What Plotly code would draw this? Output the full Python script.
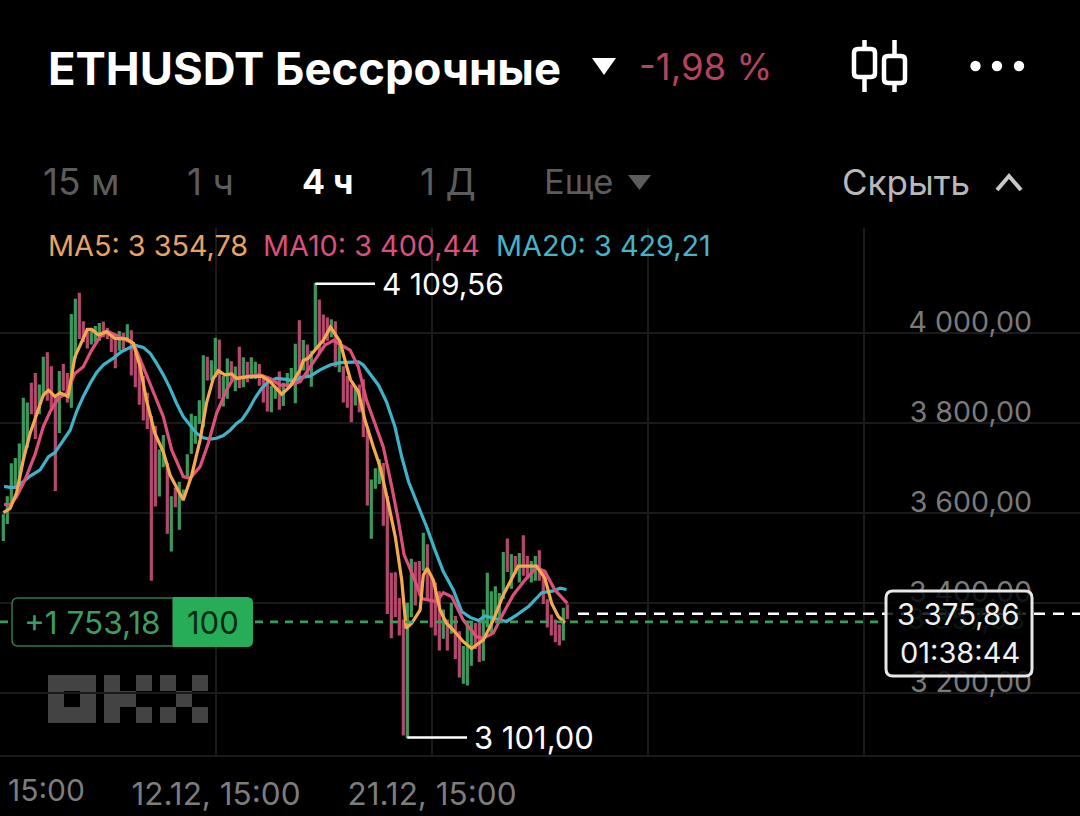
import plotly.graph_objects as go

W, H = 1080, 816

# ---- data ----
high = [3596,3636,3709,3721,3753,3855,3844,3888,3910,3884,3946,3956,3925,3859,3914,3930,3910,4041,4075,4088,
        4025,4010,4010,4014,4021,4024,4010,3996,3984,4003,3999,4018,4005,3955,3925,3903,3866,3814,3792,3740,
        3772,3710,3636,3655,3668,3651,3729,3819,3814,3849,3949,3946,3938,3988,3984,3903,3942,3936,3924,3968,
        3945,3935,3945,3935,3930,3903,3896,3881,3877,3913,3888,3910,3921,3975,4027,3983,3973,3959,4109.56,4073,
        4040,4033,4029,4025,3981,3925,3903,3884,3881,3884,3896,3784,3673,3698,3718,3710,3636,3466,3467,3410,
        3362,3399,3497,3490,3492,3555,3529,3459,3444,3425,3384,3362,3399,3370,3336,3303,3355,3355,3355,3359,
        3384,3466,3425,3436,3421,3512,3542,3507,3503,3510,3549,3503,3492,3503,3516,3473,3407,3373,3362,3351,
        3388,3396]
low = [3539,3577,3621,3659,3659,3718,3747,3821,3766,3821,3859,3851,3829,3650,3779,3873,3847,3835,3944,3988,
       3981,3967,3976,3981,3984,3992,3988,3959,3923,3962,3966,3981,3907,3881,3842,3807,3788,3451,3616,3638,
       3703,3555,3516,3614,3564,3629,3677,3733,3755,3799,3792,3896,3896,3903,3855,3838,3855,3896,3872,3879,
       3881,3892,3899,3899,3884,3847,3827,3825,3855,3831,3839,3881,3884,3845,3896,3918,3903,3882,3966,3955,
       3977,3984,3992,3925,3914,3847,3835,3803,3840,3825,3770,3618,3544,3655,3666,3573,3377,3323,3370,3329,
       3107,3101.00,3370,3396,3418,3473,3407,3347,3329,3296,3322,3296,3333,3277,3236,3222,3218,3262,3299,3270,
       3273,3347,3333,3370,3362,3410,3470,3433,3466,3447,3462,3455,3447,3451,3451,3399,3347,3329,3314,3307,
       3318,3366]
direction = ("ggggggg rr gg rrr g rr gg rrr ggg rrrr g r g rrrrrrr gg r g r gg ggggg r gg r gg r g r g r gg rrr gg r "
             "gggg r g r gg rrr g r g rrr g rrr ggg rrrrrr gg rr g rrrr g r g rr ggg rr gggggg r g r g rr gg rrrrrr g r").replace(" ", "")

ma5_x = [0,1.7,3.3,5,6.7,8.3,10,11.3,12.9,14.2,16.2,17.9,19.6,21,22.1,23.75,25.8,27.9,30.8,32.5,34.2,35.8,37.9,40,41.7,43.3,45,47.1,49.2,50.8,52.5,53.75,55.4,57.1,58.3,61.25,64.6,66.7,69.6,71.7,74.2,
         75,76.25,78.3,80,81.8,84.2,85.4,86.8,88.75,90.4,92.5,94.2,96.25,98,99.6,100.7,102.1,104.2,105,106,107.5,109.2,110.8,112.5,115,117.1,120,122.5,125,128.75,133.3,135.4,137.1,138.75,140.4]
ma5_y = [3601,3610,3644,3718,3777,3821,3862,3873,3859,3867,3859,3947,3981,4008,4008,3996,4003,3988,3987,3977,3925,3851,3777,3736,3684,3659,3629,3684,3762,3844,3899,3916,3907,3909,3899,3903,3904,3892,3864,3881,3918,
         3939,3944,3966,3984,4013,3981,3940,3896,3870,3807,3747,3703,3622,3547,3451,3344,3355,3384,3462,3477,3451,3384,3355,3340,3314,3299,3318,3362,3418,3482,3482,3455,3399,3370,3356]
ma10_x = [0.2,1.7,3.3,5.4,7.9,10,11.7,13.75,15.8,17.9,20,22.1,24.2,26,27.9,30.4,32.5,34.6,36.7,40,42.1,45,46.7,49.2,51.25,53.3,55.8,57.5,60.8,64.2,66.7,69.2,71.7,74.2,
          76.25,78.3,80.4,82.5,84.6,86.7,88.75,90.8,92.9,95,97.1,98.75,100.2,102.5,104.6,108.3,110,112.1,115,118.3,120,122.5,125,127.5,130.4,133.3,135.4,137.9,141]
ma10_y = [3619,3618,3636,3673,3729,3792,3825,3855,3866,3910,3925,3962,3992,4004,3996,3986,3977,3933,3888,3814,3740,3681,3677,3703,3755,3821,3873,3899,3903,3907,3899,3884,3884,3892,
          3918,3944,3973,3983,3973,3962,3925,3851,3799,3747,3659,3584,3507,3459,3410,3403,3423,3414,3362,3325,3322,3333,3377,3418,3451,3479,3470,3429,3399]
ma20_x = [0.2,1.7,3.3,5,6.7,9.2,11.3,12.9,15,16.7,18.3,20,21.7,23.3,25,27.5,29.6,31.7,32.9,35,36.7,38.3,40,41.7,43.3,45,46.7,48.3,50,51.7,53.3,55,56.7,58.3,59.6,61.3,62.9,64.6,66.3,68.3,70.8,72.9,
          74.2,76.7,79.2,81.7,84.2,86.7,88.8,90,91.7,93.8,95.8,97.9,99.6,101.3,103.3,105.8,107.9,110,112.5,114.6,116.7,118.8,120.4,122.5,125.8,128.3,131.3,134.6,137.5,139.2,140.8]
ma20_y = [3659,3657,3657,3670,3682,3696,3725,3734,3762,3784,3825,3859,3888,3912,3929,3944,3959,3968,3973,3968,3955,3933,3907,3877,3844,3814,3796,3777,3767,3764,3766,3772,3784,3799,3807,3829,3855,3877,3892,3899,3897,3892,
          3901,3904,3918,3929,3934,3935,3936,3929,3910,3884,3847,3792,3725,3670,3625,3570,3518,3470,3429,3381,3368,3361,3371,3366,3359,3373,3392,3423,3427,3433,3430]

y_ticks = [3200, 3400, 3600, 3800, 4000]
y_labels = ["3 200,00", "3 400,00", "3 600,00", "3 800,00", "4 000,00"]
x_tick_idx = [53.175, 107.175, 161.175, 215.175]
x_labels = ["12.12, 15:00", "21.12, 15:00", "", ""]

last_price = 3375.86
entry_price = 3358
entry_label = "3 357,68"
max_price = 4109.56
min_price = 3101.00

GREEN, RED = "#3d9a5e", "#b34a6e"

# ---- helpers: pixel to paper ----
def X(p): return p / W
def Y(p): return 1 - p / H
def i_of(px): return (px - 3.3) / 4

def rr(x0, y0, x1, y1, r, corners=(1, 1, 1, 1)):
    tl, tr, br, bl = [r * c for c in corners]
    return (f"M{X(x0+tl)},{Y(y0)} L{X(x1-tr)},{Y(y0)} Q{X(x1)},{Y(y0)} {X(x1)},{Y(y0+tr)} "
            f"L{X(x1)},{Y(y1-br)} Q{X(x1)},{Y(y1)} {X(x1-br)},{Y(y1)} L{X(x0+bl)},{Y(y1)} "
            f"Q{X(x0)},{Y(y1)} {X(x0)},{Y(y1-bl)} L{X(x0)},{Y(y0+tl)} Q{X(x0)},{Y(y0)} {X(x0+tl)},{Y(y0)} Z")

def poly(pts, close=True):
    s = "M" + " L".join(f"{X(a)},{Y(b)}" for a, b in pts)
    return s + (" Z" if close else "")

shapes, anns = [], []
def path(d, fill="rgba(0,0,0,0)", line=None, lw=0, layer="above"):
    shapes.append(dict(type="path", xref="paper", yref="paper", path=d, fillcolor=fill,
                       line=dict(color=line or "rgba(0,0,0,0)", width=lw), layer=layer))
def text(s, x, y, size, color, anchor="left", weight=400, family="Inter"):
    anns.append(dict(text=s, x=X(x), y=Y(y), xref="paper", yref="paper", xanchor=anchor, yanchor="middle",
                     showarrow=False, font=dict(size=size, color=color, family=family, weight=weight)))

open_ = [l if d == "g" else h for l, h, d in zip(low, high, direction)]
close = [h if d == "g" else l for l, h, d in zip(low, high, direction)]
idx = list(range(len(high)))

fig = go.Figure()
fig.add_trace(go.Candlestick(x=idx, open=open_, high=high, low=low, close=close, name="ETHUSDT",
                             increasing=dict(line=dict(color=GREEN, width=1.2), fillcolor=GREEN),
                             decreasing=dict(line=dict(color=RED, width=1.2), fillcolor=RED),
                             whiskerwidth=0))
fig.add_trace(go.Scatter(x=ma20_x, y=ma20_y, mode="lines", name="MA20", line=dict(color="#3fb3c6", width=3.2)))
fig.add_trace(go.Scatter(x=ma10_x, y=ma10_y, mode="lines", name="MA10", line=dict(color="#dc4f78", width=3.2)))
fig.add_trace(go.Scatter(x=ma5_x, y=ma5_y, mode="lines", name="MA5", line=dict(color="#f5a94f", width=3.2)))

# price lines
fig.add_trace(go.Scatter(x=[i_of(0), i_of(886)], y=[entry_price] * 2, mode="lines", name="entry",
                         line=dict(color="#3d9a5e", width=2.6, dash="8px,7px")))
fig.add_trace(go.Scatter(x=[i_of(578), i_of(1080)], y=[last_price] * 2, mode="lines", name="last",
                         line=dict(color="#ffffff", width=2.5, dash="11px,8px")))
fig.add_trace(go.Scatter(x=[i_of(966)], y=[entry_price], mode="text", text=[entry_label], name="entry label",
                         textposition="middle center", textfont=dict(size=29, color="#2f7d4b", family="Inter")))

# max / min callouts
fig.add_trace(go.Scatter(x=[78, i_of(375)], y=[max_price] * 2, mode="lines", name="max",
                         line=dict(color="#ffffff", width=2.5)))
fig.add_trace(go.Scatter(x=[101, i_of(467)], y=[min_price] * 2, mode="lines", name="min",
                         line=dict(color="#ffffff", width=2.5)))

# header
text("ETHUSDT Бессрочные", 46, 68, 45.4, "#ffffff", weight=700)
path(poly([(592, 58), (616, 58), (604, 75)]), fill="#ffffff")
text("-1,98 %", 637, 67, 36.5, "#b5435f")
# candle icon
path(rr(854, 49, 875, 77, 4), line="#ffffff", lw=4.5)
path(rr(884, 56, 905, 83, 4), line="#ffffff", lw=4.5)
for cx, segs in ((864.5, [(40, 49), (77, 92)]), (894.5, [(40, 56), (83, 92)])):
    for a, b in segs:
        path(poly([(cx, a), (cx, b)], close=False), line="#ffffff", lw=4.5)
for cx in (975.5, 997, 1019):
    shapes.append(dict(type="circle", xref="paper", yref="paper", x0=X(cx - 5.2), x1=X(cx + 5.2),
                       y0=Y(66 + 5.2), y1=Y(66 - 5.2), fillcolor="#ffffff", line=dict(width=0), layer="above"))

# timeframe row
text("15 м", 41, 181, 37, "#5c5c5c")
text("1 ч", 185, 181, 37, "#5c5c5c")
text("4 ч", 300, 181, 34, "#ffffff", weight=700)
text("1 Д", 418, 181, 37, "#5c5c5c")
text("Еще", 542, 181, 34.5, "#5c5c5c")
path(poly([(628, 175), (651, 175), (639.5, 190)]), fill="#5c5c5c")
text("Скрыть", 840, 182, 35, "#b9b9b9")
path(poly([(997, 190), (1009, 176), (1021, 190)], close=False), line="#c8c8c8", lw=4)

# MA legend
text("MA5: 3 354,78", 46, 245, 28.8, "#e8a263")
text("MA10: 3 400,44", 261, 245, 28.8, "#d9507a")
text("MA20: 3 429,21", 494, 245, 28.8, "#46b3c7")

# callout text
text("4 109,56", 380, 284, 30, "#ffffff")
text("3 101,00", 472, 737, 31, "#ffffff")

# position tag
path(rr(12, 598, 173, 646, 6, (1, 0, 0, 1)), fill="#000000", line="#2f7a4a", lw=1.5)
path(rr(173, 597, 253, 647, 6, (0, 1, 1, 0)), fill="#27ad58")
text("+1 753,18", 22, 622, 31.5, "#3f9c60")
text("100", 213, 622, 31, "#0b2914", anchor="center")

# OKX logo
LOGO = "#434343"
path(poly([(48, 675), (96, 675), (96, 723), (48, 723)]) + " " +
     poly([(64, 691), (64, 707), (80, 707), (80, 691)]), fill=LOGO, layer="below")
for x0, y0, x1, y1 in [(104, 675, 120, 723), (120, 691, 136, 707), (136, 675, 152, 691), (136, 707, 152, 723),
                       (160, 675, 176, 691), (192, 675, 208, 691), (176, 691, 192, 707),
                       (160, 707, 176, 723), (192, 707, 208, 723)]:
    path(poly([(x0, y0), (x1, y0), (x1, y1), (x0, y1)]), fill=LOGO, layer="below")

# last price box
path(rr(886, 591, 1032, 676, 7), fill="rgba(0,0,0,0.82)", line="#e8e8e8", lw=3)
text("3 375,86", 958, 614, 29.5, "#f0f0f0", anchor="center")
text("01:38:44", 960, 652, 29, "#f0f0f0", anchor="center")
text("15:00", 46, 790, 30, "#7d7d7d", anchor="center")

GRID = "#1a1a1a"
fig.update_layout(
    width=W, height=H, margin=dict(l=0, r=0, t=0, b=0),
    paper_bgcolor="#000000", plot_bgcolor="#000000", showlegend=False, hovermode=False,
    shapes=shapes, annotations=anns,
    font=dict(family="Inter"),
    xaxis=dict(domain=[0, 1], range=[i_of(0), i_of(1080)], rangeslider=dict(visible=False),
               tickmode="array", tickvals=x_tick_idx, ticktext=x_labels, showgrid=True, gridcolor=GRID, gridwidth=1.5,
               zeroline=False, showline=True, linecolor=GRID, linewidth=1.5, ticks="",
               tickfont=dict(size=31.5, color="#7d7d7d", family="Inter"), ticklabelstandoff=10),
    yaxis=dict(domain=[Y(755), Y(228)], range=[4000 - (755 - 333) / 0.45, 4000 + (333 - 228) / 0.45],
               side="right", ticklabelposition="inside", tickmode="array", tickvals=y_ticks, ticktext=y_labels,
               showgrid=True, gridcolor=GRID, gridwidth=1.5, zeroline=False, showline=False, ticks="",
               tickfont=dict(size=28.6, color="#7a7a7a", family="Inter"), ticklabelstandoff=45, ticklabelshift=-11),
)

fig.write_html("out.html", config={"displayModeBar": False},
               post_script="document.body.style.margin='0';document.documentElement.style.overflow='hidden';")
